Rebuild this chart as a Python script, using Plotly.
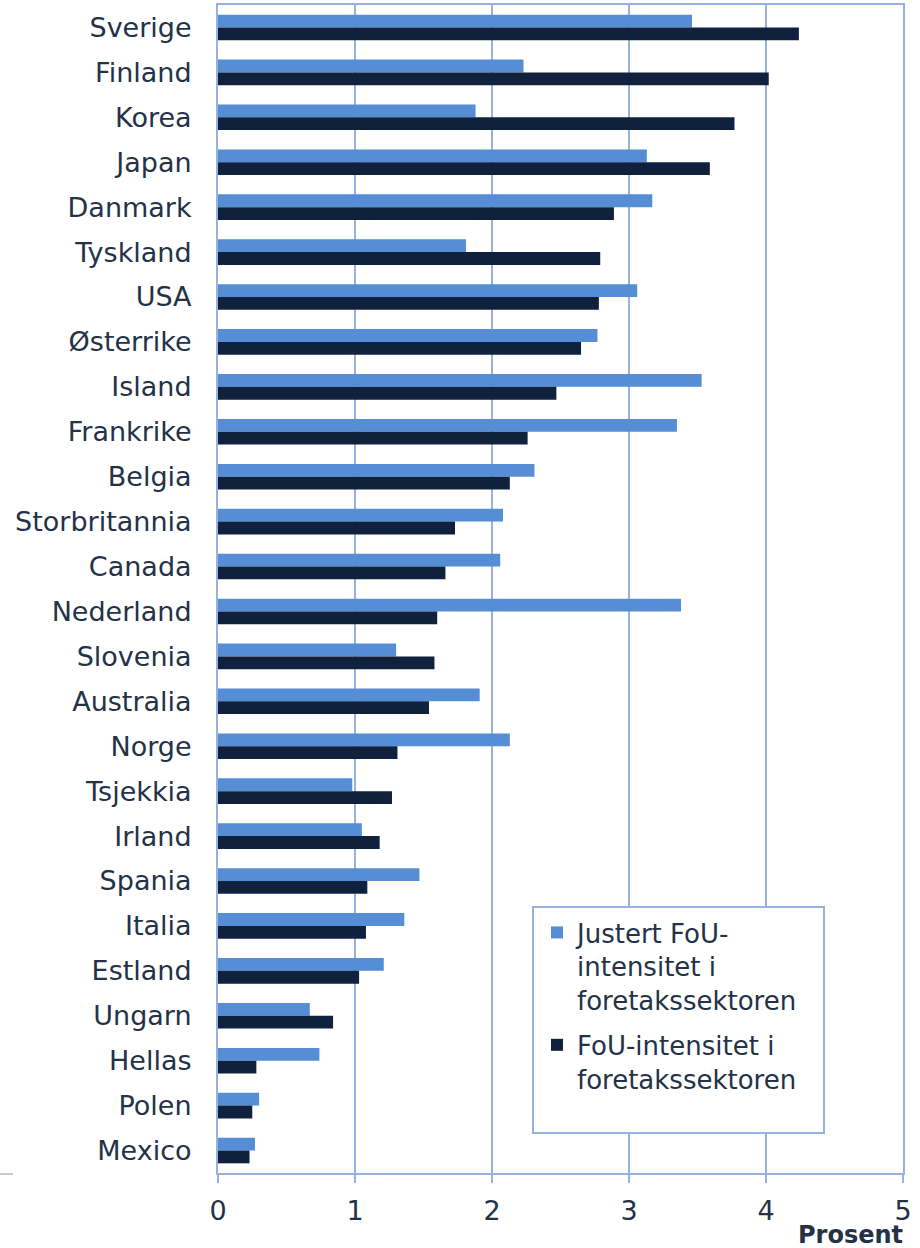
import plotly.graph_objects as go

countries = ["Sverige", "Finland", "Korea", "Japan", "Danmark", "Tyskland", "USA",
             "Østerrike", "Island", "Frankrike", "Belgia", "Storbritannia", "Canada",
             "Nederland", "Slovenia", "Australia", "Norge", "Tsjekkia", "Irland",
             "Spania", "Italia", "Estland", "Ungarn", "Hellas", "Polen", "Mexico"]

justert = [3.46, 2.23, 1.88, 3.13, 3.17, 1.81, 3.06, 2.77, 3.53, 3.35, 2.31, 2.08, 2.06,
           3.38, 1.30, 1.91, 2.13, 0.98, 1.05, 1.47, 1.36, 1.21, 0.67, 0.74, 0.30, 0.27]

fou = [4.24, 4.02, 3.77, 3.59, 2.89, 2.79, 2.78, 2.65, 2.47, 2.26, 2.13, 1.73, 1.66,
       1.60, 1.58, 1.54, 1.31, 1.27, 1.18, 1.09, 1.08, 1.03, 0.84, 0.28, 0.25, 0.23]

name_justert = "Justert FoU-<br>intensitet i<br>foretakssektoren"
name_fou = "FoU-intensitet i<br>foretakssektoren"

LIGHT = "#558ed5"
DARK = "#0f213d"
GRID = "#95b3de"
TEXT = "#243247"

fig = go.Figure()
fig.add_trace(go.Bar(y=countries, x=justert, orientation="h", name=name_justert,
                     legendgroup="a",
                     marker=dict(color=LIGHT, line=dict(width=0))))
fig.add_trace(go.Bar(y=countries, x=fou, orientation="h", name=name_fou,
                     legendgroup="b",
                     marker=dict(color=DARK, line=dict(width=0))))

W, H = 920, 1248
L, R, T, B = 218, 17, 5, 75
pw, ph = W - L - R, H - T - B

def px_x(x):
    return (x - L) / pw

def px_y(y):
    return (H - B - y) / ph

fig.update_layout(
    width=W, height=H,
    margin=dict(l=L, r=R, t=T, b=B, autoexpand=False),
    paper_bgcolor="white", plot_bgcolor="white",
    barmode="group", bargap=0.43, bargroupgap=0,
    font=dict(family="DejaVu Sans", size=27, color=TEXT),
    showlegend=True,
    legend=dict(x=px_x(537), y=px_y(909), xanchor="left", yanchor="top",
                bgcolor="rgba(0,0,0,0)", borderwidth=0, valign="top",
                font=dict(family="DejaVu Sans", size=26, color=TEXT),
                tracegroupgap=8, itemsizing="constant"),
    shapes=[
        dict(type="rect", xref="paper", yref="paper",
             x0=px_x(533), x1=px_x(824), y0=px_y(1133), y1=px_y(907),
             fillcolor="white", line=dict(color=GRID, width=2), layer="above"),
        dict(type="line", xref="paper", yref="paper",
             x0=px_x(0), x1=px_x(13), y0=px_y(1174), y1=px_y(1174),
             line=dict(color="#b8b8b8", width=1.5)),
    ],
    annotations=[
        dict(text="<b>Prosent</b>", xref="paper", yref="paper",
             x=px_x(905), y=px_y(1235), xanchor="right", yanchor="middle",
             showarrow=False, font=dict(family="DejaVu Sans", size=24, color=TEXT)),
    ],
)

fig.update_xaxes(range=[0, 5], dtick=1, tick0=0,
                 showgrid=True, gridcolor=GRID, gridwidth=1.5,
                 showline=True, linecolor=GRID, linewidth=2, mirror=True,
                 ticks="outside", ticklen=8, tickcolor=GRID, tickwidth=1.5,
                 ticklabelstandoff=5, zeroline=False, automargin=False,
                 tickfont=dict(size=27, color=TEXT))
fig.update_yaxes(autorange="reversed", showgrid=False,
                 showline=True, linecolor=GRID, linewidth=2, mirror=True,
                 ticks="", ticklabelstandoff=19, automargin=False,
                 tickfont=dict(size=27, color=TEXT))

fig.write_html("out.html", config={"displayModeBar": False},
               post_script="document.body.style.margin='0';document.body.style.padding='0';")
